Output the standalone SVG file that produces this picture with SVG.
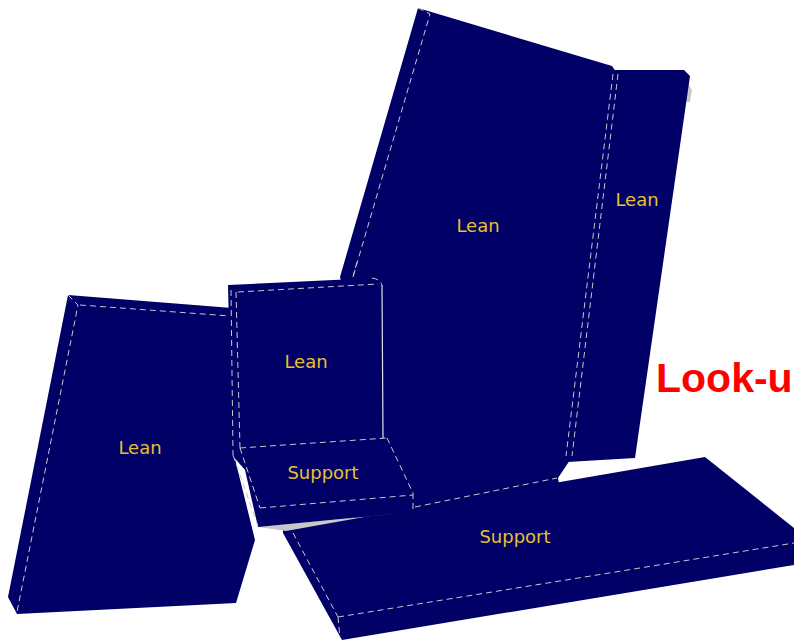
<svg xmlns="http://www.w3.org/2000/svg" width="794" height="640" viewBox="0 0 794 640">
  <style>
    .block { fill: #000066; stroke: none; }
    .edge { fill: none; stroke: #c8c8d0; stroke-width: 1; stroke-dasharray: 6 4; }
    .solid { fill: none; stroke: #e0e0e8; stroke-width: 1.2; }
    .shadow { fill: #c8c8c8; }
    .label { font-family: "DejaVu Sans", Verdana, sans-serif; font-size: 18px; fill: #e8c030; text-anchor: middle; }
    .title { font-family: "Liberation Sans", Arial, sans-serif; font-size: 41px; font-weight: bold; fill: #ff0000; }
  </style>
  <rect width="794" height="640" fill="#ffffff"/>

  <!-- tall central lean panel -->
  <g id="lean-center">
    <polygon class="block" points="418,8 612,66 616,72 570,460 558,478 560,490 415,516 383,448 340,277"/>
    <polyline class="edge" points="418,8 430,14 353,277"/>
    <text class="label" x="478" y="232">Lean</text>
  </g>

  <!-- narrow right lean panel -->
  <g id="lean-right">
    <polygon class="shadow" points="687,82 692,90 690,102 685,102"/>
    <polygon class="block" points="612,70 684,70 690,76 635,458 567,462"/>
    <line class="edge" x1="613" y1="74" x2="566" y2="456"/>
    <line class="edge" x1="618" y1="74" x2="572" y2="456"/>
    <text class="label" x="637" y="206">Lean</text>
  </g>

  <!-- left lean panel -->
  <g id="lean-left">
    <polygon class="block" points="68,295 232,308 234,455 255,540 236,603 17,614 8,597"/>
    <polyline class="edge" points="68,295 78,305 17,612"/>
    <line class="edge" x1="80" y1="305" x2="230" y2="316"/>
    <text class="label" x="140" y="454">Lean</text>
  </g>

  <!-- long support slab -->
  <g id="support-slab">
    <polygon class="block" points="283,530 705,457 794,528 794,565 342,640 283,533"/>
    <line class="edge" x1="293" y1="533" x2="338" y2="617"/>
    <line class="edge" x1="338" y1="617" x2="794" y2="543"/>
    <line class="edge" x1="338" y1="617" x2="340" y2="638"/>
    <line class="edge" x1="415" y1="507" x2="557" y2="478"/>
    <text class="label" x="515" y="543">Support</text>
  </g>

  <!-- small chair: lean back with support seat -->
  <g id="chair">
    <polygon class="shadow" points="258,527 413,512 370,516 286,531"/>
    <polygon class="block" points="228,285 376,278 382,283 383,440 240,450 232,455"/>
    <polygon class="block" points="232,455 240,448 387,438 413,492 413,512 258,527 245,470"/>
    <line class="edge" x1="238" y1="292" x2="378" y2="284"/>
    <line class="edge" x1="236" y1="292" x2="240" y2="448"/>
    <line class="edge" x1="231" y1="290" x2="233" y2="455"/>
    <path class="edge" d="M357,262 L353,277 M372,278 Q380,279 382,285"/>
    <line class="solid" x1="382" y1="285" x2="383" y2="438"/>
    <line class="edge" x1="240" y1="448" x2="387" y2="438"/>
    <line class="edge" x1="387" y1="438" x2="413" y2="493"/>
    <line class="edge" x1="260" y1="508" x2="413" y2="495"/>
    <line class="edge" x1="240" y1="448" x2="260" y2="508"/>
    <line class="edge" x1="233" y1="455" x2="258" y2="526"/>
    <line class="edge" x1="413" y1="493" x2="413" y2="512"/>
    <text class="label" x="306" y="368">Lean</text>
    <text class="label" x="323" y="479">Support</text>
  </g>

  <text class="title" x="656" y="392">Look-u</text>
</svg>
